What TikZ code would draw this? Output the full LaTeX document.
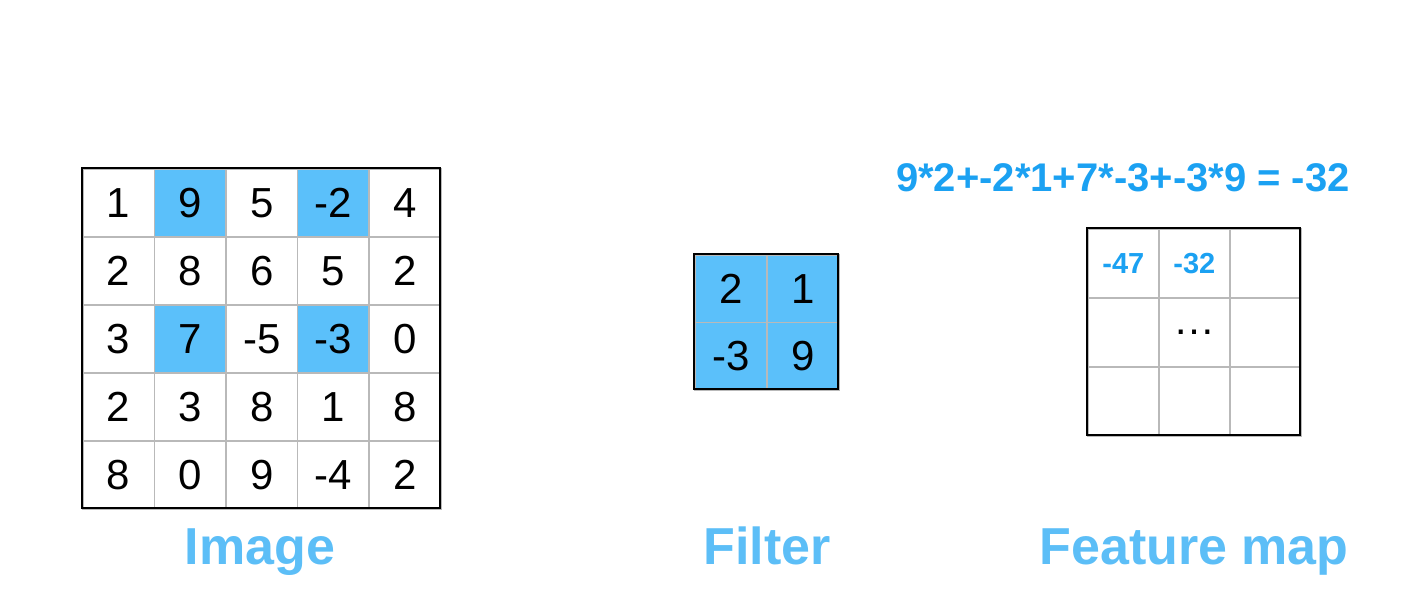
\documentclass[tikz,border=0pt]{standalone}
\usepackage{fontspec}
\setmainfont{Liberation Sans}
\definecolor{cellblue}{HTML}{5BC0FA}
\definecolor{eqblue}{HTML}{1BA1F2}
\definecolor{lblblue}{HTML}{5CBEF7}
\begin{document}
\begin{tikzpicture}[x=0.5pt,y=-0.5pt,
  cell/.style={draw=gray!55,line width=0.8pt,minimum width=35.8pt,minimum height=34pt,inner sep=0,font=\fontsize{21}{21}\selectfont,anchor=north west,text depth=-2pt},
  fcell/.style={cell,minimum width=36pt,minimum height=33.75pt},
  mcell/.style={cell,minimum width=35.5pt,minimum height=34.5pt},
  mnum/.style={font=\bfseries\fontsize{14.5}{14.5}\selectfont,text=eqblue},
  hl/.style={fill=cellblue},
  lbl/.style={font=\bfseries\fontsize{26}{26}\selectfont,text=lblblue,anchor=base}]
\useasboundingbox (0,0) rectangle (1404,616);
% Image
\foreach \row [count=\r from 0] in {{1,9,5,-2,4},{2,8,6,5,2},{3,7,-5,-3,0},{2,3,8,1,8},{8,0,9,-4,2}}{
  \foreach \v [count=\c from 0] in \row {
    \pgfmathtruncatemacro{\isb}{(\r==0 || \r==2) && (\c==1 || \c==3) ? 1 : 0}
    \ifnum\isb=1
      \node[cell,hl] (i\r\c) at ({82+\c*71.6},{168+\r*68}) {\v};
    \else
      \node[cell] (i\r\c) at ({82+\c*71.6},{168+\r*68}) {\v};
    \fi
  }
}
\draw[line width=1pt] (82,168) rectangle (440,508);
% Filter
\foreach \row [count=\r from 0] in {{2,1},{-3,9}}{
  \foreach \v [count=\c from 0] in \row {
    \node[fcell,hl] (f\r\c) at ({694+\c*72},{254+\r*67.5}) {\v};
  }
}
\draw[line width=1pt] (694,254) rectangle (838,389);
% Feature map
\foreach \r in {0,1,2}{\foreach \c in {0,1,2}{
  \node[mcell] (m\r\c) at ({1087+\c*71},{228+\r*69}) {};
}}
\node at (m00.center) [mnum] {-47};
\node at (m01.center) [mnum] {-32};
\node at (m11.center) [font=\fontsize{21}{21}\selectfont] {\dots};
\draw[line width=1pt] (1087,228) rectangle (1300,435);
\node (eq) at (1123,178) [font=\bfseries\fontsize{20}{20}\selectfont,text=eqblue] {9*2+-2*1+7*-3+-3*9 = -32};
\node[lbl] (l1) at (260,564) {Image};
\node[lbl] (l2) at (767,564) {Filter};
\node[lbl] (l3) at (1194,564) {Feature map};
\end{tikzpicture}
\end{document}
